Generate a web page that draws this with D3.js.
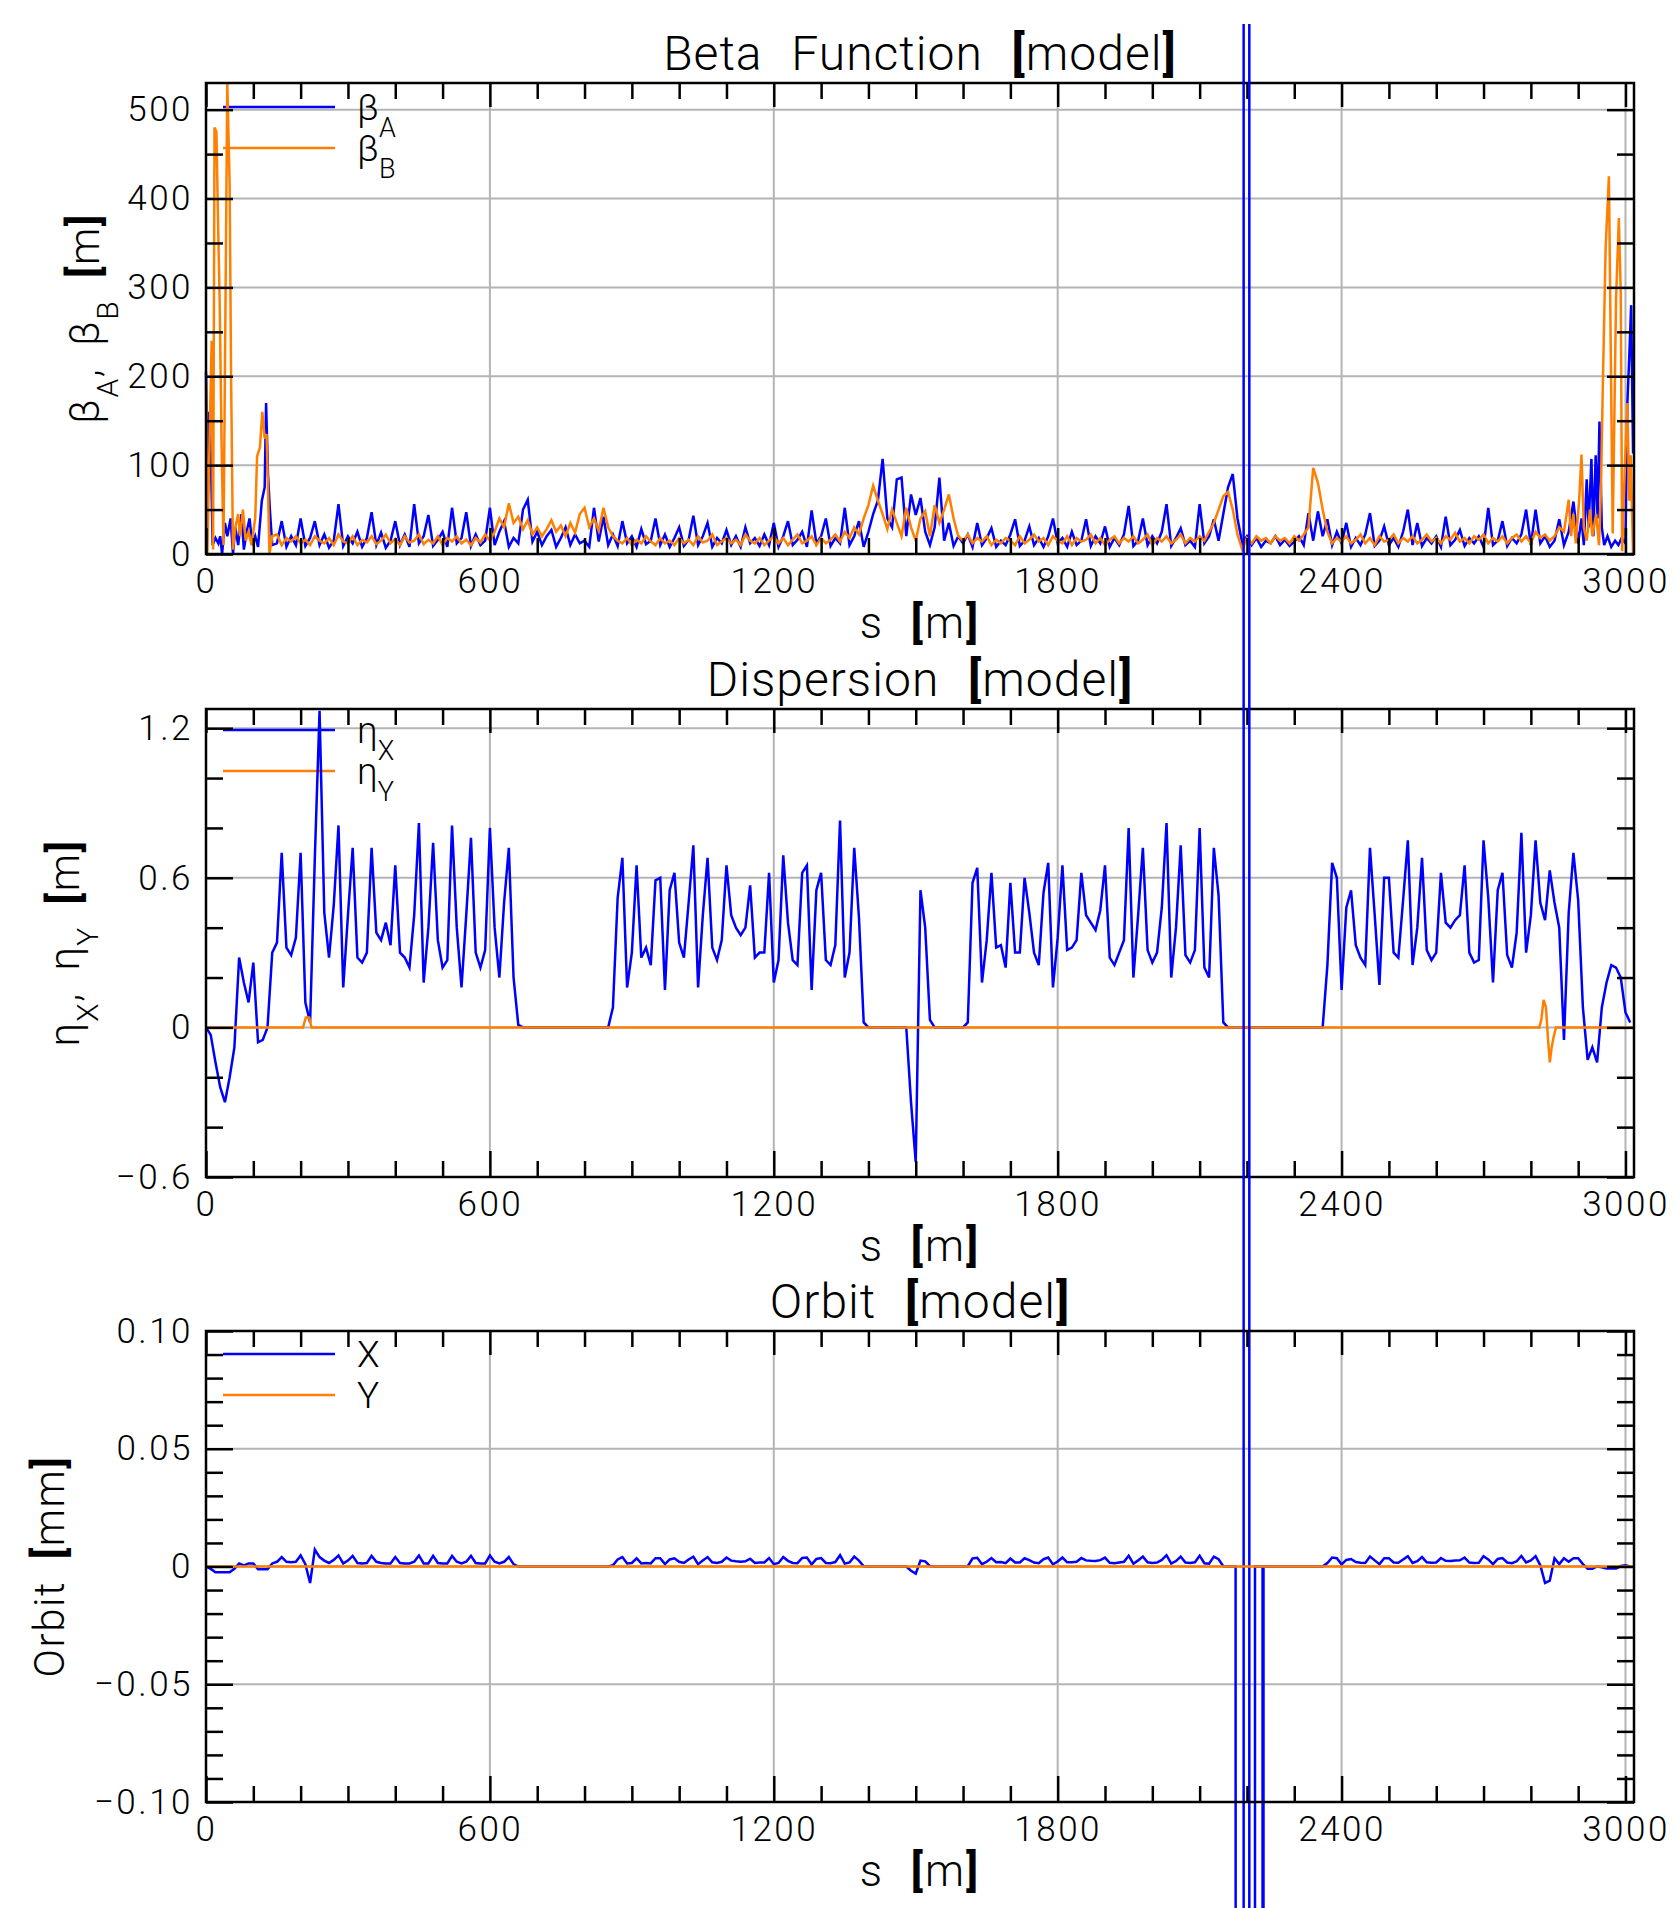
<!DOCTYPE html>
<html><head><meta charset="utf-8">
<script src="https://cdn.jsdelivr.net/npm/d3@7/dist/d3.min.js"></script>
<style>
body{margin:0;background:#fff;}
svg{display:block;}
</style></head><body>
<svg id="chart" width="1674" height="1908"></svg>
<script>
// ---------------- DATA ----------------
const S_MAX = 3018;                       // ring length shown on the x axis [m]
const X_TICKS = [0, 600, 1200, 1800, 2400, 3000];
const X_TICK_LABELS = ["0", "600", "1200", "1800", "2400", "3000"];
const GRID_STEP = 10;                     // spacing [m] of the regularly sampled arrays

// Beta function, first 150 m (explicit s)
const betaA_headS = [0,3,7,11,14,20,26,30,34,40,45,52,57,62,68,75,80,86,92,98,104,110,118,124,127,131,135,140];
const betaA_head  = [205,90,160,95,10,18,12,20,0,35,20,40,0,30,10,45,5,25,40,10,20,8,60,75,170,90,50,10];
const betaB_headS = [0,3,8,12,15,18,22,26,29,33,37,45,50,53,57,62,68,72,78,84,90,96,104,108,114,119,124,128,131,134,140];
const betaB_head  = [190,0,140,240,5,480,475,360,280,120,10,530,415,200,5,30,45,20,50,15,25,10,40,110,120,160,130,135,75,0,20];
// Beta function, s = 150 ... 2880 every 10 m
const BETA_MID_START = 150;
const betaA_mid = [
 12,37,8,20,10,40,9,18,37,10,   22,7,15,56,9,20,12,25,8,18,
 47,10,24,7,15,37,10,22,8,56,   12,20,44,9,16,25,8,52,12,18,
 47,9,22,10,15,52,10,25,37,8,   18,12,50,61,14,25,10,20,27,8,
 18,30,10,22,12,15,8,52,14,42,  10,22,9,37,12,20,8,28,11,15,
 40,10,22,8,18,30,9,16,43,10,   20,35,8,18,12,27,10,20,8,30,
 12,18,9,22,10,35,8,20,37,10,   16,25,8,49,12,20,40,9,18,12,
 52,10,20,37,8,25,45,60,107,40, 30,84,86,20,67,44,63,25,10,30,
 86,15,35,9,20,12,22,8,35,10,   18,29,8,15,10,22,39,9,15,31,
 10,18,8,20,40,12,18,8,25,10,   15,39,9,20,12,31,8,18,10,22,
 54,9,15,40,10,20,12,25,56,9,   18,29,10,15,8,56,12,20,39,15,
 45,75,90,40,12,20,10,18,8,15,  12,20,10,16,9,14,20,10,46,15,
 48,20,39,10,25,12,35,8,18,10,  22,46,9,15,31,10,18,8,25,50,
 10,35,9,18,12,20,8,42,10,16,   27,9,18,12,20,8,52,10,15,37,
 9,18,12,22,50,10,50,12,20,8,   15,39,10,25];
const betaB_mid = [
 22,10,18,14,20,12,16,10,20,15, 12,18,10,22,14,12,20,10,16,13,
 20,11,15,22,12,17,10,20,13,15, 22,11,16,12,20,10,18,14,20,12,
 16,10,18,13,22,15,25,40,30,57, 35,42,28,38,22,30,20,28,38,25,
 32,20,35,24,45,52,30,40,26,52, 30,20,15,12,18,10,16,12,20,14,
 10,18,12,15,10,18,12,16,10,20, 13,15,22,10,14,18,12,16,10,22,
 15,12,18,10,15,20,12,18,10,16, 22,12,15,20,10,18,12,16,22,14,
 25,18,30,22,40,55,77,60,45,28, 50,35,20,52,30,15,40,48,20,55,
 35,50,67,40,20,15,22,12,18,14, 20,10,16,12,18,15,10,20,12,16,
 22,14,18,10,20,15,12,20,10,18, 14,16,22,12,18,10,16,20,12,18,
 14,20,12,16,22,10,18,14,20,12, 16,22,12,18,14,20,15,25,35,50,
 65,70,50,22,5,18,12,20,15,18,  12,20,15,18,12,20,15,22,30,97,
 80,50,25,12,18,14,20,12,16,22, 12,18,10,20,14,16,22,12,18,14,
 20,12,16,22,14,18,12,20,16,24, 14,18,12,20,16,22,12,18,14,20,
 12,18,22,14,20,12,25,18,22,15, 20,30,25,61];
// Beta function, last metres (explicit s)
const betaA_tailS = [2890,2900,2907,2912,2918,2922,2928,2932,2937,2941,2945,2950,2955,2962,2970,2978,2985,2992,3000,3004,3008,3012,3016];
const betaA_tail  = [59,12,40,10,84,30,107,20,111,40,149,30,10,20,8,15,10,18,12,170,222,280,113];
const betaB_tailS = [2885,2890,2895,2902,2907,2912,2918,2925,2930,2938,2944,2948,2952,2958,2965,2969,2973,2980,2986,2990,2993,2999,3004,3008,3011,3016];
const betaB_tail  = [20,45,12,60,112,30,15,50,20,45,10,69,186,344,425,224,23,286,378,294,3,103,170,60,111,0];

// Dispersion eta_X, s = 0 ... 3010 every 10 m
const etaX = [
 0,-0.03,-0.14,-0.24,-0.30,-0.20,-0.08,0.28,0.18,0.10,
 0.26,-0.06,-0.05,0,0.30,0.34,0.70,0.32,0.29,0.36,
 0.70,0.10,0.02,0.68,1.27,0.46,0.28,0.49,0.81,0.16,
 0.45,0.72,0.28,0.26,0.30,0.72,0.38,0.35,0.42,0.33,
 0.65,0.30,0.28,0.24,0.45,0.82,0.18,0.40,0.74,0.35,
 0.24,0.27,0.81,0.40,0.16,0.45,0.76,0.30,0.24,0.31,
 0.80,0.40,0.20,0.50,0.72,0.20,0.01,0,0,0,
 0,0,0,0,0,0,0,0,0,0,
 0,0,0,0,0,0,0.08,0.52,0.68,0.16,
 0.30,0.65,0.28,0.32,0.25,0.59,0.60,0.15,0.55,0.62,
 0.34,0.28,0.50,0.73,0.16,0.45,0.68,0.32,0.27,0.35,
 0.65,0.45,0.40,0.37,0.40,0.57,0.28,0.30,0.30,0.62,
 0.18,0.27,0.69,0.42,0.27,0.25,0.62,0.65,0.15,0.55,
 0.62,0.27,0.25,0.33,0.83,0.20,0.30,0.72,0.44,0.02,
 0,0,0,0,0,0,0,0,0,-0.30,
 -0.54,0.55,0.40,0.03,0,0,0,0,0,0,
 0,0.02,0.58,0.64,0.18,0.35,0.62,0.32,0.33,0.24,
 0.58,0.30,0.30,0.60,0.46,0.30,0.25,0.54,0.66,0.16,
 0.36,0.65,0.31,0.32,0.35,0.62,0.45,0.42,0.39,0.47,
 0.65,0.28,0.25,0.30,0.35,0.80,0.20,0.45,0.72,0.31,
 0.26,0.30,0.48,0.82,0.20,0.40,0.73,0.29,0.26,0.31,
 0.80,0.24,0.20,0.72,0.53,0.02,0,0,0,0,
 0,0,0,0,0,0,0,0,0,0,
 0,0,0,0,0,0,0,0.25,0.66,0.60,
 0.15,0.48,0.55,0.33,0.28,0.25,0.72,0.45,0.17,0.60,
 0.60,0.30,0.28,0.51,0.75,0.25,0.40,0.68,0.31,0.27,
 0.30,0.62,0.42,0.40,0.43,0.45,0.65,0.30,0.26,0.27,
 0.75,0.52,0.18,0.55,0.62,0.29,0.24,0.38,0.78,0.30,
 0.45,0.75,0.50,0.43,0.63,0.50,0.40,-0.05,0.46,0.70,
 0.51,0.08,-0.13,-0.08,-0.14,0.08,0.18,0.25,0.24,0.20,
 0.06,0.02];
// Dispersion eta_Y (explicit s)
const etaY_S = [0,205,211,218,223,2818,2822,2827,2832,2836,2840,2844,2848,2853,3018];
const etaY   = [0,0,0.04,0.04,0,0,0.03,0.11,0.08,-0.04,-0.14,-0.08,-0.04,0,0];

// Orbit X [mm], s = 0 ... 3010 every 10 m (null where the unstable region below takes over)
const orbitX = [
 0,-0.001,-0.0024,-0.0024,-0.0024,-0.0024,-0.001,0.0013,0.0005,0.0013,
 0.0013,-0.0012,-0.0012,-0.0012,0.0013,0.002,0.004,0.002,0.0018,0.002,
 0.0047,0.001,-0.007,0.0072,0.004,0.0025,0.0015,0.0028,0.0047,0.0013,
 0.0025,0.0045,0.0015,0.0013,0.0015,0.0045,0.002,0.0015,0.0013,0.0013,
 0.004,0.0015,0.0013,0.0013,0.002,0.0047,0.0013,0.0013,0.0045,0.0015,
 0.0013,0.0013,0.0045,0.002,0.0013,0.002,0.0045,0.0015,0.0013,0.0013,
 0.0047,0.002,0.0013,0.002,0.004,0.001,0,0,0,0,
 0,0,0,0,0,0,0,0,0,0,
 0,0,0,0,0,0,0.0005,0.003,0.004,0.0013,
 0.0015,0.0035,0.0013,0.0015,0.0013,0.0035,0.0035,0.001,0.003,0.0035,
 0.002,0.0015,0.003,0.0042,0.001,0.0025,0.004,0.0018,0.0015,0.002,
 0.0038,0.0025,0.0022,0.002,0.0022,0.0033,0.0015,0.0017,0.0017,0.0036,
 0.001,0.0015,0.004,0.0024,0.0015,0.0014,0.0036,0.0038,0.0009,0.0032,
 0.0036,0.0015,0.0014,0.0019,0.0048,0.0012,0.0017,0.0042,0.0025,0.0001,
 0,0,0,0,0,0,0,0,0,-0.0018,
 -0.003,0.0025,0.0022,0.0002,0,0,0,0,0,0,
 0,0.0001,0.0034,0.0037,0.001,0.002,0.0036,0.0018,0.0019,0.0014,
 0.0034,0.0017,0.0017,0.0035,0.0027,0.0017,0.0014,0.0031,0.0038,0.0009,
 0.0021,0.0038,0.0018,0.0018,0.002,0.0036,0.0026,0.0024,0.0023,0.0027,
 0.0038,0.0016,0.0014,0.0017,0.002,0.0046,0.0012,0.0026,0.0042,0.0018,
 0.0015,0.0017,0.0028,0.0048,0.0012,0.0023,0.0042,0.0017,0.0015,0.0018,
 0.0046,0.0014,0.0012,0.0042,0.0031,0.0001,0,0,null,null,
 null,null,null,null,0,0,0,0,0,0,
 0,0,0,0,0,0,0,0.0015,0.0038,0.0035,
 0.0009,0.0028,0.0032,0.0019,0.0016,0.0015,0.0042,0.0026,0.001,0.0035,
 0.0035,0.0017,0.0016,0.003,0.0044,0.0015,0.0023,0.004,0.0018,0.0016,
 0.0017,0.0036,0.0024,0.0023,0.0025,0.0026,0.0038,0.0017,0.0015,0.0016,
 0.0044,0.003,0.001,0.0032,0.0036,0.0017,0.0014,0.0022,0.0045,0.0017,
 0.0026,0.0044,0.0005,-0.007,-0.006,0.0035,0.001,0.0035,0.002,0.0035,
 0.0035,0.001,-0.001,-0.001,0,-0.0003,-0.0008,-0.0008,-0.0008,0.0002,
 0.0005,0];
// Orbit X in the unstable region (values far outside the plotted range)
const orbitSpikeS = [2176,2178,2193,2193,2205,2205,2217,2217,2233,2234,2235];
const orbitSpike  = [0,-3,-3,3,3,-3,-3,0,0,-3,0];
// Orbit Y
const orbitY_S = [0, 3018];
const orbitY   = [0, 0];

// Y ticks / labels
const BETA_Y_TICKS = [0,100,200,300,400,500];
const BETA_Y_LABELS = ["0","100","200","300","400","500"];
const ETA_Y_TICKS = [-0.6,0,0.6,1.2];
const ETA_Y_LABELS = ["\u22120.6","0","0.6","1.2"];
const ORBIT_Y_TICKS = [-0.10,-0.05,0,0.05,0.10];
const ORBIT_Y_LABELS = ["\u22120.10","\u22120.05","0","0.05","0.10"];

// ---------------- LAYOUT / STYLE ----------------
const W = 1674, H = 1908;
const PLOT_L = 206, PLOT_R = 1634;
const BLUE = "#0000ff", ORANGE = "#ff7f00", GRID = "#b4b4b4";
const FONT = "Roboto, 'DejaVu Sans', sans-serif";
const PAGE_CLIP_TOP = 24;

const pts = (sArr, vArr) => sArr.map((s, i) => ({s, v: vArr[i]}));
const gridPts = (start, vArr) => vArr.map((v, i) => ({s: start + i * GRID_STEP, v})).filter(d => d.v !== null);

const betaAData = [...pts(betaA_headS, betaA_head), ...gridPts(BETA_MID_START, betaA_mid), ...pts(betaA_tailS, betaA_tail)];
const betaBData = [...pts(betaB_headS, betaB_head), ...gridPts(BETA_MID_START, betaB_mid), ...pts(betaB_tailS, betaB_tail)];
const etaXData = gridPts(0, etaX);
const etaYData = pts(etaY_S, etaY);
const orbitXData = [...gridPts(0, orbitX), ...pts(orbitSpikeS, orbitSpike)].sort((a, b) => a.s - b.s);
const orbitYData = pts(orbitY_S, orbitY);

const svg = d3.select("#chart").attr("font-family", FONT).attr("font-weight", 300);
svg.append("rect").attr("width", W).attr("height", H).attr("fill", "#fff");
svg.append("defs").append("clipPath").attr("id", "pageClip")
  .append("rect").attr("x", 0).attr("y", PAGE_CLIP_TOP).attr("width", W).attr("height", H - PAGE_CLIP_TOP);

const x = d3.scaleLinear([0, S_MAX], [PLOT_L, PLOT_R]);

const panels = [
  {title: "Beta Function", top: 83, bottom: 554, yDomain: [0, 530], yTicks: BETA_Y_TICKS, yLabels: BETA_Y_LABELS, yMinorStep: 50,
   yLabelX: 99, yLabel: [["\u03B2",""],["A","sub"],[", \u03B2",""],["B","sub"],[" ",""],["[","b"],["m",""],["]","b"]],
   legendOff: 24, legend: [{color: BLUE, main: "\u03B2", sub: "A"}, {color: ORANGE, main: "\u03B2", sub: "B"}],
   series: [{data: betaAData, color: BLUE}, {data: betaBData, color: ORANGE}]},
  {title: "Dispersion", top: 709, bottom: 1177, yDomain: [-0.6, 1.277], yTicks: ETA_Y_TICKS, yLabels: ETA_Y_LABELS, yMinorStep: 0.2,
   yLabelX: 79, yLabel: [["\u03B7",""],["X","sub"],[", \u03B7",""],["Y","sub"],[" ",""],["[","b"],["m",""],["]","b"]],
   legendOff: 21, legend: [{color: BLUE, main: "\u03B7", sub: "X"}, {color: ORANGE, main: "\u03B7", sub: "Y"}],
   series: [{data: etaXData, color: BLUE}, {data: etaYData, color: ORANGE}]},
  {title: "Orbit", top: 1331, bottom: 1802, yDomain: [-0.1, 0.1], yTicks: ORBIT_Y_TICKS, yLabels: ORBIT_Y_LABELS, yMinorStep: 0.01,
   yLabelX: 64, yLabel: [["Orbit ",""],["[","b"],["mm",""],["]","b"]],
   legendOff: 23, legend: [{color: BLUE, main: "X"}, {color: ORANGE, main: "Y"}],
   series: [{data: orbitXData, color: BLUE, clip: true}, {data: orbitYData, color: ORANGE}]}
];

const xMinor = d3.range(0, S_MAX, 100).filter(v => !X_TICKS.includes(v));

function styleAxis(g) {
  g.select(".domain").remove();
  g.selectAll(".tick line").attr("stroke", "#000").attr("stroke-width", 2.5);
  g.selectAll("text").attr("font-size", 35).attr("font-family", FONT).attr("font-weight", 300)
    .attr("letter-spacing", 2.5).attr("fill", "#000");
}

panels.forEach(p => {
  const g = svg.append("g");
  const y = d3.scaleLinear(p.yDomain, [p.bottom, p.top]);
  const eps = 1e-9;
  const yMinor = d3.range(p.yDomain[0], p.yDomain[1] + eps, p.yMinorStep)
    .filter(v => !p.yTicks.some(t => Math.abs(t - v) < p.yMinorStep / 10));

  // grid
  g.append("g").selectAll("line").data(X_TICKS.filter(t => t > 0)).join("line")
    .attr("x1", d => x(d)).attr("x2", d => x(d)).attr("y1", p.top).attr("y2", p.bottom)
    .attr("stroke", GRID).attr("stroke-width", 2);
  g.append("g").selectAll("line").data(p.yTicks.filter(t => t > p.yDomain[0] + eps && t < p.yDomain[1] - eps)).join("line")
    .attr("x1", PLOT_L).attr("x2", PLOT_R).attr("y1", d => y(d)).attr("y2", d => y(d))
    .attr("stroke", GRID).attr("stroke-width", 2);

  // legend
  p.legend.forEach((it, i) => {
    const ly = p.top + p.legendOff + i * 41;
    g.append("line").attr("x1", 223).attr("x2", 335).attr("y1", ly).attr("y2", ly)
      .attr("stroke", it.color).attr("stroke-width", 2.5);
    const t = g.append("text").attr("x", 357).attr("y", ly + 13).attr("font-size", 37).attr("fill", "#000");
    t.append("tspan").text(it.main);
    if (it.sub) t.append("tspan").attr("dy", 17).attr("font-size", 27).text(it.sub);
  });

  // series
  const line = d3.line().x(d => x(d.s)).y(d => y(d.v));
  p.series.forEach(sr => {
    const path = g.append("path").datum(sr.data).attr("d", line)
      .attr("fill", "none").attr("stroke", sr.color).attr("stroke-width", 2.5).attr("stroke-linejoin", "miter");
    if (sr.clip) path.attr("clip-path", "url(#pageClip)");
  });

  // frame
  g.append("rect").attr("x", PLOT_L).attr("y", p.top).attr("width", PLOT_R - PLOT_L).attr("height", p.bottom - p.top)
    .attr("fill", "none").attr("stroke", "#000").attr("stroke-width", 2.5);

  // axes (ticks pointing inward)
  g.append("g").attr("transform", `translate(0,${p.bottom})`)
    .call(d3.axisBottom(x).tickValues(X_TICKS).tickSizeInner(-26).tickSizeOuter(0).tickPadding(14)
      .tickFormat((d, i) => X_TICK_LABELS[i])).call(styleAxis);
  g.append("g").attr("transform", `translate(0,${p.bottom})`)
    .call(d3.axisBottom(x).tickValues(xMinor).tickSizeInner(-16).tickSizeOuter(0).tickFormat("")).call(styleAxis);
  g.append("g").attr("transform", `translate(0,${p.top})`)
    .call(d3.axisTop(x).tickValues(X_TICKS).tickSizeInner(-24).tickSizeOuter(0).tickFormat("")).call(styleAxis);
  g.append("g").attr("transform", `translate(0,${p.top})`)
    .call(d3.axisTop(x).tickValues(xMinor).tickSizeInner(-16).tickSizeOuter(0).tickFormat("")).call(styleAxis);
  g.append("g").attr("transform", `translate(${PLOT_L},0)`)
    .call(d3.axisLeft(y).tickValues(p.yTicks).tickSizeInner(-27).tickSizeOuter(0).tickPadding(13)
      .tickFormat((d, i) => p.yLabels[i])).call(styleAxis);
  g.append("g").attr("transform", `translate(${PLOT_L},0)`)
    .call(d3.axisLeft(y).tickValues(yMinor).tickSizeInner(-17).tickSizeOuter(0).tickFormat("")).call(styleAxis);
  g.append("g").attr("transform", `translate(${PLOT_R},0)`)
    .call(d3.axisRight(y).tickValues(p.yTicks).tickSizeInner(-27).tickSizeOuter(0).tickFormat("")).call(styleAxis);
  g.append("g").attr("transform", `translate(${PLOT_R},0)`)
    .call(d3.axisRight(y).tickValues(yMinor).tickSizeInner(-17).tickSizeOuter(0).tickFormat("")).call(styleAxis);

  // title
  const cx = (PLOT_L + PLOT_R) / 2;
  const tt = g.append("text").attr("x", cx).attr("y", p.top - 13).attr("text-anchor", "middle")
    .attr("font-size", 48).attr("letter-spacing", 1).attr("word-spacing", 16).attr("fill", "#000");
  tt.append("tspan").text(p.title + " ");
  tt.append("tspan").attr("font-weight", 700).text("[");
  tt.append("tspan").text("model");
  tt.append("tspan").attr("font-weight", 700).text("]");

  // x label
  const xl = g.append("text").attr("x", cx).attr("y", p.bottom + 84).attr("text-anchor", "middle")
    .attr("font-size", 44).attr("letter-spacing", 2).attr("word-spacing", 14).attr("fill", "#000");
  xl.append("tspan").text("s ");
  xl.append("tspan").attr("font-weight", 700).text("[");
  xl.append("tspan").text("m");
  xl.append("tspan").attr("font-weight", 700).text("]");

  // y label
  const yl = g.append("text")
    .attr("transform", `translate(${p.yLabelX},${(p.top + p.bottom) / 2}) rotate(-90)`)
    .attr("text-anchor", "middle").attr("font-size", 42).attr("letter-spacing", 1.5).attr("word-spacing", 10).attr("fill", "#000");
  let shifted = false;
  p.yLabel.forEach(([txt, kind]) => {
    const ts = yl.append("tspan").text(txt);
    if (kind === "sub") { ts.attr("dy", 19).attr("font-size", 30); shifted = true; }
    else {
      if (shifted) { ts.attr("dy", -19); shifted = false; }
      if (kind === "b") ts.attr("font-weight", 700);
    }
  });
});
</script>
</body></html>
